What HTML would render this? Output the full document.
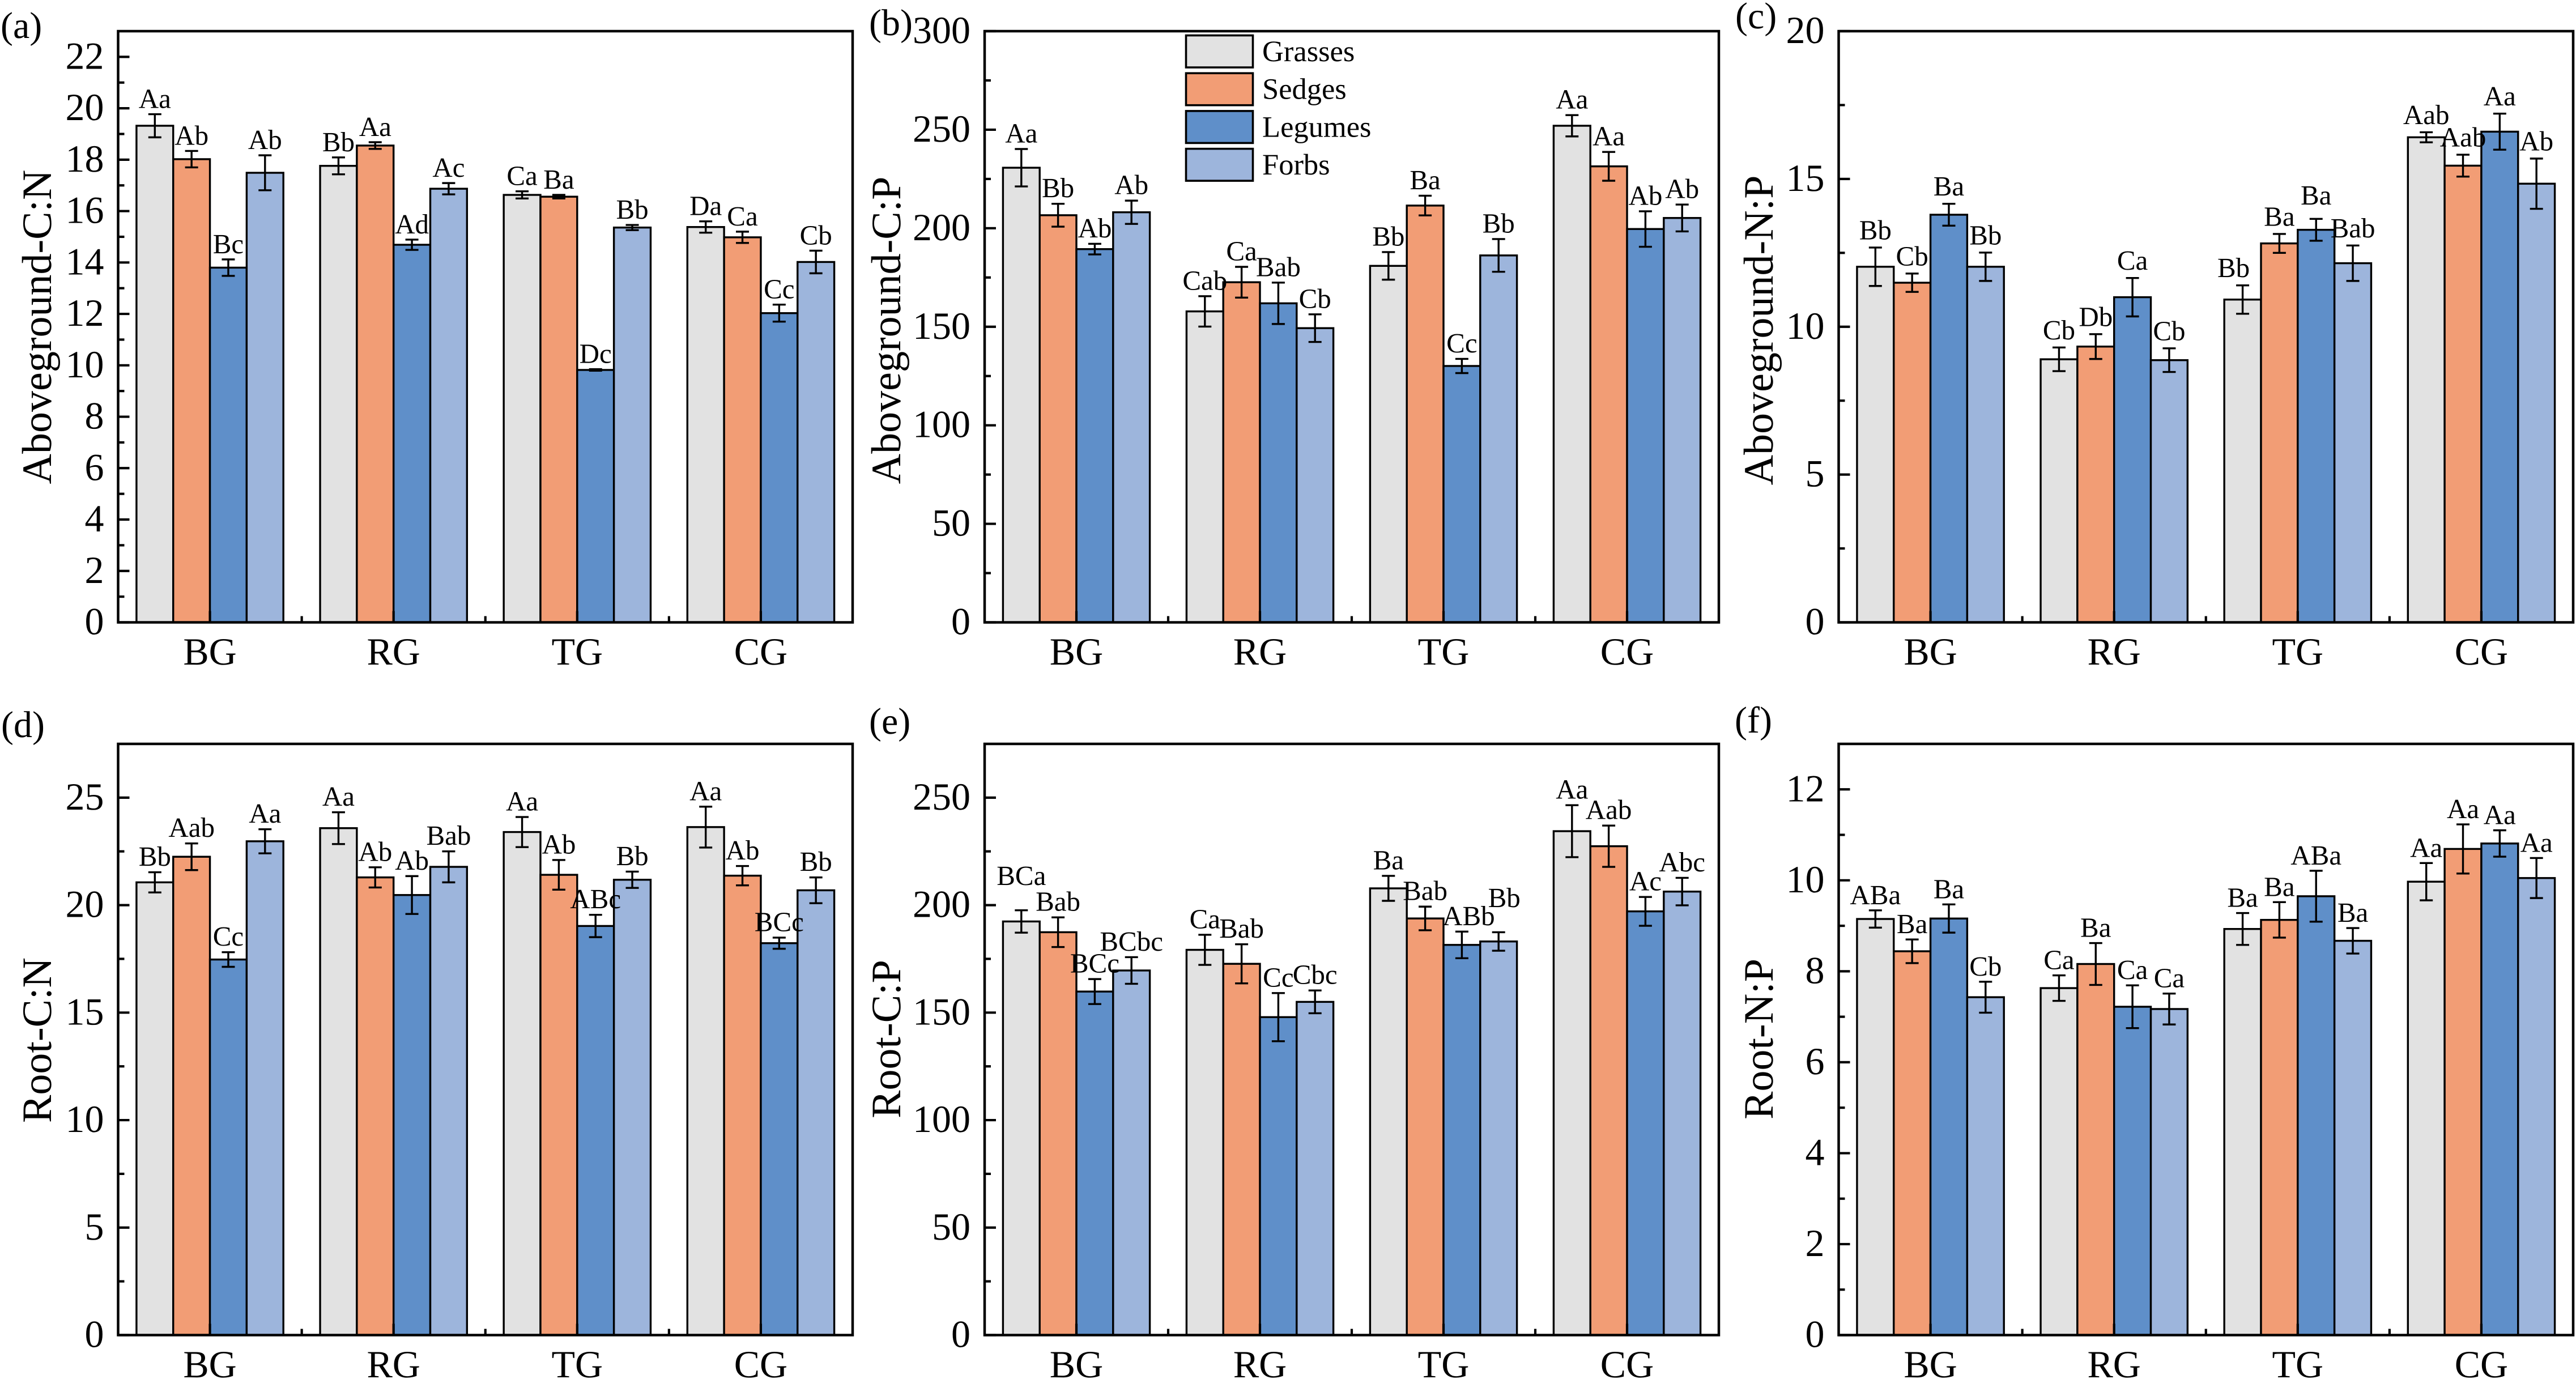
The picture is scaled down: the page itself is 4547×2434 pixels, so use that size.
<!DOCTYPE html>
<html lang="en">
<head>
<meta charset="utf-8">
<title>Aboveground and root stoichiometry by plant group</title>
<style>
html,body{margin:0;padding:0;background:#fff;}
svg{display:block;}
text{font-family:"Liberation Serif",serif;fill:#000;text-rendering:geometricPrecision;}
</style>
</head>
<body>
<svg id="figure" xmlns="http://www.w3.org/2000/svg" width="4547" height="2434" viewBox="0 0 4547 2434">
  <rect x="0" y="0" width="4547" height="2434" fill="#ffffff"/>
</svg>
<script>
// ---------- shared categories ----------
const categories = ["BG", "RG", "TG", "CG"];
const groups = ["Grasses", "Sedges", "Legumes", "Forbs"];

// ---------- (a) Aboveground C:N ----------
const aValues = [[19.32,18.02,13.80,17.49],[17.76,18.55,14.69,16.87],[16.63,16.56,9.82,15.36],[15.38,14.98,12.03,14.02]];
const aErrors = [[0.45,0.32,0.32,0.68],[0.33,0.13,0.20,0.22],[0.14,0.07,0.03,0.10],[0.22,0.22,0.33,0.44]];
const aLetters = [["Aa","Ab","Bc","Ab"],["Bb","Aa","Ad","Ac"],["Ca","Ba","Dc","Bb"],["Da","Ca","Cc","Cb"]];
const aTicks = [0,2,4,6,8,10,12,14,16,18,20,22];

// ---------- (b) Aboveground C:P ----------
const bValues = [[230.7,206.6,189.4,208.1],[157.8,172.6,161.9,149.3],[180.9,211.5,130.1,186.2],[252.0,231.4,199.6,205.2]];
const bErrors = [[9.5,5.8,2.7,5.9],[7.7,7.8,10.5,7.0],[7.0,5.0,3.6,8.3],[5.4,7.3,9.0,6.8]];
const bLetters = [["Aa","Bb","Ab","Ab"],["Cab","Ca","Bab","Cb"],["Bb","Ba","Cc","Bb"],["Aa","Aa","Ab","Ab"]];
const bTicks = [0,50,100,150,200,250,300];

// ---------- (c) Aboveground N:P ----------
const cValues = [[12.03,11.49,13.79,12.03],[8.90,9.33,11.00,8.87],[10.92,12.82,13.28,12.15],[16.41,15.45,16.60,14.84]];
const cErrors = [[0.65,0.31,0.37,0.48],[0.40,0.42,0.65,0.40],[0.48,0.32,0.37,0.60],[0.17,0.37,0.61,0.85]];
const cLetters = [["Bb","Cb","Ba","Bb"],["Cb","Db","Ca","Cb"],["Bb","Ba","Ba","Bab"],["Aab","Aab","Aa","Ab"]];
const cTicks = [0,5,10,15,20];

// ---------- (d) Root C:N ----------
const dValues = [[21.06,22.25,17.47,22.97],[23.58,21.29,20.47,21.78],[23.40,21.41,19.03,21.18],[23.63,21.37,18.23,20.69]];
const dErrors = [[0.47,0.62,0.34,0.56],[0.74,0.47,0.88,0.72],[0.70,0.69,0.52,0.38],[0.95,0.45,0.26,0.60]];
const dLetters = [["Bb","Aab","Cc","Aa"],["Aa","Ab","Ab","Bab"],["Aa","Ab","ABc","Bb"],["Aa","Ab","BCc","Bb"]];
const dTicks = [0,5,10,15,20,25];

// ---------- (e) Root C:P ----------
const eValues = [[192.4,187.4,159.8,169.6],[179.2,172.7,147.9,155.0],[207.8,193.8,181.5,183.1],[234.4,227.4,197.1,206.3]];
const eErrors = [[5.2,6.9,5.8,6.2],[7.0,9.1,11.2,5.3],[5.8,5.5,6.2,4.3],[12.1,9.6,6.7,6.4]];
const eLetters = [["BCa","Bab","BCc","BCbc"],["Ca","Bab","Cc","Cbc"],["Ba","Bab","ABb","Bb"],["Aa","Aab","Ac","Abc"]];
const eTicks = [0,50,100,150,200,250];

// ---------- (f) Root N:P ----------
const fValues = [[9.15,8.44,9.16,7.43],[7.63,8.16,7.22,7.17],[8.93,9.13,9.65,8.67],[9.97,10.69,10.81,10.05]];
const fErrors = [[0.19,0.26,0.31,0.34],[0.28,0.46,0.47,0.34],[0.35,0.39,0.56,0.28],[0.41,0.54,0.29,0.44]];
const fLetters = [["ABa","Ba","Ba","Cb"],["Ca","Ba","Ca","Ca"],["Ba","Ba","ABa","Ba"],["Aa","Aa","Aa","Aa"]];
const fTicks = [0,2,4,6,8,10,12];

// ---------- panel definitions (data + layout) ----------
const colX = [[208.5,1505],[1738,3034],[3245.5,4542]];
const rowY = [[55,1098.5],[1313,2356.5]];
const panels = [
  {id:"a",title:"Aboveground-C:N",values:aValues,errors:aErrors,letters:aLetters,ticks:aTicks,ymax:23,col:0,row:0,titleX:90,titleY:577,tagX:1,tagY:67,gap:11},
  {id:"b",title:"Aboveground-C:P",values:bValues,errors:bErrors,letters:bLetters,ticks:bTicks,ymax:300,col:1,row:0,titleX:1589,titleY:583,tagX:1534,tagY:62,gap:11.5},
  {id:"c",title:"Aboveground-N:P",values:cValues,errors:cErrors,letters:cLetters,ticks:cTicks,ymax:20,col:2,row:0,titleX:3129,titleY:583,tagX:3063,tagY:50,gap:14.5},
  {id:"d",title:"Root-C:N",values:dValues,errors:dErrors,letters:dLetters,ticks:dTicks,ymax:27.5,col:0,row:1,titleX:90,titleY:1836,tagX:2,tagY:1301,gap:11.5},
  {id:"e",title:"Root-C:P",values:eValues,errors:eErrors,letters:eLetters,ticks:eTicks,ymax:275,col:1,row:1,titleX:1589,titleY:1834,tagX:1534,tagY:1295,gap:11.5},
  {id:"f",title:"Root-N:P",values:fValues,errors:fErrors,letters:fLetters,ticks:fTicks,ymax:13,col:2,row:1,titleX:3129,titleY:1834,tagX:3062,tagY:1293,gap:11}
];
const fills = {Grasses:"#E2E2E2",Sedges:"#F29D75",Legumes:"#5F8FC9",Forbs:"#9DB5DC"};
const labelShift = {"c-2-0":[-16,0],"c-2-2":[0,-11],"e-0-0":[0,-33],"e-2-2":[12,0],"e-2-3":[10,-33]};

const NS = "http://www.w3.org/2000/svg";
const root = document.getElementById("figure");

function make(tag, attrs, parent, content) {
  const el = document.createElementNS(NS, tag);
  Object.keys(attrs).forEach(function (k) { el.setAttribute(k, attrs[k]); });
  if (content !== undefined) el.textContent = content;
  parent.appendChild(el);
  return el;
}

panels.forEach(function (p) {
  const x0 = colX[p.col][0], x1 = colX[p.col][1];
  const yTop = rowY[p.row][0], yBot = rowY[p.row][1];
  const scaleY = function (v) { return yBot - (v / p.ymax) * (yBot - yTop); };
  const pitch = (x1 - x0) / categories.length;
  const barW = pitch * 0.2;
  const groupX = function (i) { return x0 + pitch * (i + 0.5); };
  const barX = function (i, j) { return groupX(i) + (j - groups.length / 2) * barW; };

  const g = make("g", {}, root);
  
  

  // bars and error bars
  categories.forEach(function (cat, i) {
    groups.forEach(function (grp, j) {
      const v = p.values[i][j], e = p.errors[i][j];
      const left = barX(i, j), cx = left + barW / 2;
      const bar = make("rect", {x:left, y:scaleY(v), width:barW, height:yBot - scaleY(v), fill:fills[grp], stroke:"#000", "stroke-width":3.4}, g);
      
      
    });
    groups.forEach(function (grp, j) {
      const v = p.values[i][j], e = p.errors[i][j];
      const cx = barX(i, j) + barW / 2;
      const top = scaleY(v + e), bottom = scaleY(v - e), capHalf = 11.5;
      const d = "M" + cx + " " + top + "V" + bottom + "M" + (cx - capHalf) + " " + top + "H" + (cx + capHalf) + "M" + (cx - capHalf) + " " + bottom + "H" + (cx + capHalf);
      const err = make("path", {d:d, fill:"none", stroke:"#000", "stroke-width":3.4}, g);
      
      
    });
  });

  // y ticks
  const step = p.ticks[1] - p.ticks[0];
  p.ticks.forEach(function (t) {
    const major = make("line", {x1:x0, x2:x0 + 20, y1:scaleY(t), y2:scaleY(t), stroke:"#000", "stroke-width":4.2}, g);
    
    
    const lab = make("text", {x:x0 - 25, y:scaleY(t) + 21, "text-anchor":"end", "font-size":68}, g, String(t));
    
    
    if (t + step / 2 < p.ymax) {
      const minor = make("line", {x1:x0, x2:x0 + 11, y1:scaleY(t + step / 2), y2:scaleY(t + step / 2), stroke:"#000", "stroke-width":4.2}, g);
      
      
    }
  });

  // x ticks and labels
  categories.forEach(function (cat, i) {
    const tick = make("line", {x1:groupX(i), x2:groupX(i), y1:yBot, y2:yBot - 20, stroke:"#000", "stroke-width":4.2}, g);
    
    
    if (i > 0) {
      const minor = make("line", {x1:x0 + pitch * i, x2:x0 + pitch * i, y1:yBot, y2:yBot - 11, stroke:"#000", "stroke-width":4.2}, g);
      
      
    }
    const lab = make("text", {x:groupX(i), y:yBot + 74.5, "text-anchor":"middle", "font-size":68}, g, cat);
    
    
  });

  // frame
  const frame = make("rect", {x:x0, y:yTop, width:x1 - x0, height:yBot - yTop, fill:"none", stroke:"#000", "stroke-width":4.5}, g);
  
  

  // significance letters
  categories.forEach(function (cat, i) {
    groups.forEach(function (grp, j) {
      const shift = labelShift[p.id + "-" + i + "-" + j] || [0, 0];
      const cx = barX(i, j) + barW / 2 + shift[0];
      const ly = scaleY(p.values[i][j] + p.errors[i][j]) - p.gap + shift[1];
      const t = make("text", {x:cx, y:ly, "text-anchor":"middle", "font-size":49}, g, p.letters[i][j]);
      
      
    });
  });

  // y-axis title
  const title = make("text", {x:p.titleX, y:p.titleY, "text-anchor":"middle", "font-size":74, transform:"rotate(-90 " + p.titleX + " " + p.titleY + ")"}, g, p.title);
  
  

  // panel tag
  const tag = make("text", {x:p.tagX, y:p.tagY, "font-size":66}, g, "(" + p.id + ")");
  
  
});

// legend
const legend = make("g", {}, root);


groups.forEach(function (grp, j) {
  const top = 62.5 + j * 66.7;
  const sw = make("rect", {x:2093.5, y:top, width:118, height:56.5, fill:fills[grp], stroke:"#000", "stroke-width":3.6}, legend);
  
  
  const t = make("text", {x:2228, y:top + 45.5, "font-size":52.5}, legend, grp);
  
  
});
</script>
</body>
</html>
